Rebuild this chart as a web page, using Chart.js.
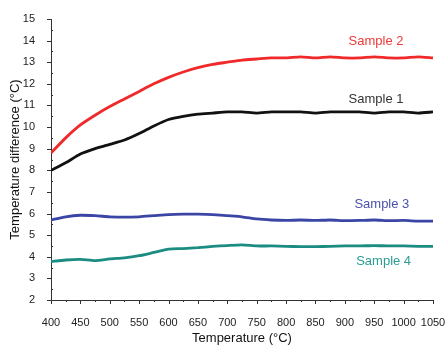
<!DOCTYPE html>
<html>
<head>
<meta charset="utf-8">
<script src="https://cdn.jsdelivr.net/npm/chart.js@4"></script>
<style>
  html, body { margin: 0; padding: 0; background: #fff; }
  #wrap { width: 448px; height: 346px; }
</style>
</head>
<body>
<div id="wrap"><canvas id="chart" width="448" height="346"></canvas></div>
<script>
const temps = [400, 425, 450, 475, 500, 525, 550, 575, 600, 625, 650, 675, 700, 725, 750, 775, 800, 825, 850, 875, 900, 925, 950, 975, 1000, 1025, 1050]
const sample1 = [8.0, 8.35, 8.75, 9.0, 9.2, 9.4, 9.7, 10.05, 10.35, 10.5, 10.6, 10.65, 10.7, 10.7, 10.65, 10.7, 10.7, 10.7, 10.65, 10.7, 10.7, 10.7, 10.65, 10.7, 10.7, 10.65, 10.7]
const sample2 = [8.8, 9.5, 10.1, 10.55, 10.95, 11.3, 11.65, 12.0, 12.3, 12.55, 12.75, 12.9, 13.0, 13.1, 13.15, 13.2, 13.2, 13.25, 13.2, 13.25, 13.2, 13.2, 13.25, 13.2, 13.2, 13.25, 13.2]
const sample3 = [5.7, 5.85, 5.92, 5.9, 5.85, 5.83, 5.85, 5.9, 5.95, 5.97, 5.97, 5.95, 5.9, 5.85, 5.75, 5.7, 5.68, 5.7, 5.68, 5.7, 5.67, 5.68, 5.7, 5.67, 5.68, 5.65, 5.65]
const sample4 = [3.78, 3.85, 3.88, 3.82, 3.9, 3.95, 4.05, 4.2, 4.35, 4.38, 4.42, 4.48, 4.52, 4.55, 4.5, 4.5, 4.48, 4.47, 4.47, 4.48, 4.5, 4.5, 4.52, 4.5, 4.5, 4.48, 4.48]

// label text, anchor in data units, colour
const seriesLabels = [
  { text: "Sample 2", x: 953, y: 13.94, color: "#ee3a3a" },
  { text: "Sample 1", x: 953, y: 11.26, color: "#333333" },
  { text: "Sample 3", x: 963, y: 6.4, color: "#4a52aa" },
  { text: "Sample 4", x: 966, y: 3.8, color: "#2a9d93" },
]

function pts(ys) { return temps.map((t, i) => ({ x: t, y: ys[i] })) }

const lineDs = (label, ys, color) => ({
  label: label,
  data: pts(ys),
  borderColor: color,
  borderWidth: 2.8,
  pointRadius: 0,
  tension: 0.2,
  fill: false,
})

const axisTicks = {
  id: "axisTicks",
  afterDraw(chart) {
    const { ctx } = chart
    const x = chart.scales.x, y = chart.scales.y
    ctx.save()
    ctx.strokeStyle = "#333"
    ctx.lineWidth = 1
    ctx.beginPath()
    for (let v = 400; v <= 1050; v += 25) {
      const px = Math.round(x.getPixelForValue(v)) + 0.5
      const len = v % 50 == 0 ? 4 : 2
      ctx.moveTo(px, y.bottom)
      ctx.lineTo(px, y.bottom + len)
    }
    for (let v = 2; v <= 15; v += 0.5) {
      const py = Math.round(y.getPixelForValue(v)) + 0.5
      if (v % 1 == 0) {
        ctx.moveTo(x.left - 4, py)
        ctx.lineTo(x.left, py)
      } else {
        ctx.moveTo(x.left, py)
        ctx.lineTo(x.left + 2, py)
      }
    }
    ctx.stroke()
    ctx.font = "13px 'Liberation Sans', Arial, sans-serif"
    ctx.textAlign = "center"
    ctx.textBaseline = "middle"
    seriesLabels.forEach(l => {
      ctx.fillStyle = l.color
      ctx.fillText(l.text, x.getPixelForValue(l.x), y.getPixelForValue(l.y))
    })
    ctx.restore()
  }
}

Chart.defaults.font.family = "'Liberation Sans', Arial, sans-serif"
Chart.defaults.color = "#222"

new Chart(document.getElementById("chart"), {
  type: "line",
  data: {
    datasets: [
      lineDs("Sample 2", sample2, "#f02a2a"),
      lineDs("Sample 1", sample1, "#111111"),
      lineDs("Sample 3", sample3, "#3b45a6"),
      lineDs("Sample 4", sample4, "#1b8c82"),
    ]
  },
  options: {
    responsive: false,
    animation: false,
    layout: { padding: { top: 19, right: 15, left: 0, bottom: 0 } },
    plugins: { legend: { display: false }, tooltip: { enabled: false } },
    scales: {
      x: {
        type: "linear",
        min: 400,
        max: 1050,
        afterFit(scale) {
          scale.height = 46
          scale.paddingLeft = 0
          scale.paddingRight = 0
        },
        grid: { display: false },
        border: { display: true, color: "#333", width: 1 },
        ticks: { stepSize: 50, padding: 8, maxRotation: 0, autoSkip: false, font: { size: 11 }, color: "#222", callback: v => String(v) },
        title: { display: true, text: "Temperature (°C)", font: { size: 13 }, color: "#111", padding: { top: 4, bottom: 0 } },
      },
      y: {
        min: 2,
        max: 15,
        afterFit(scale) { scale.width = 51 },
        grid: { display: false },
        border: { display: true, color: "#333", width: 1 },
        ticks: { stepSize: 1, padding: 8, font: { size: 11 }, color: "#222" },
        title: { display: true, text: "Temperature difference (°C)", font: { size: 13 }, color: "#111", padding: { top: 8, bottom: 2 } },
      },
    },
  },
  plugins: [axisTicks],
})
</script>
</body>
</html>
